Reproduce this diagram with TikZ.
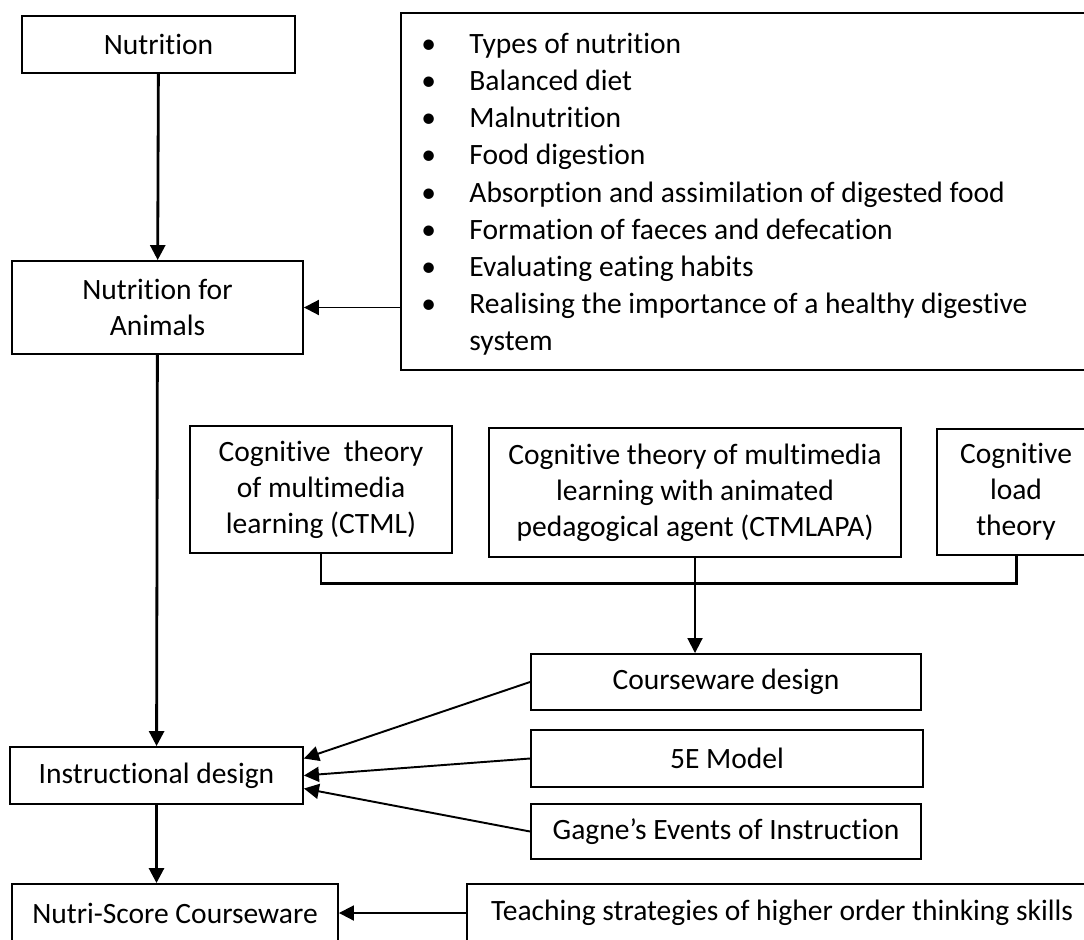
\documentclass[tikz,border=0pt]{standalone}
\usepackage{fontspec}
\setmainfont[Ligatures={NoCommon}]{Carlito}
\usetikzlibrary{positioning, arrows.meta, calc}

\begin{document}
\begin{tikzpicture}[
    x=0.02cm, y=-0.02cm,
    >={Triangle[length=0.3cm, width=0.3cm]},
    font=\fontsize{16.8}{20.5}\selectfont,
    conceptbox/.style={
        draw=black, line width=1.1pt,
        align=center, inner sep=2pt,
    },
    bulletlist/.style={
        align=left, inner sep=0pt,
        font=\fontsize{16.8}{21.1}\selectfont,
    },
    link/.style={
        ->, line width=1.1pt,
    },
    mainlink/.style={
        ->, line width=1.6pt,
    },
    bracket/.style={
        line width=1.7pt,
    },
]

% Page frame (boxes on the right and bottom run off the page)
\useasboundingbox[fill=white] (0,0) rectangle (1084,939);
\clip (0,0) rectangle (1084,939);

% Topic column (left)
\node[conceptbox, minimum width=5.46cm, minimum height=1.14cm] (nutr) at (158.5,44.5) {Nutrition};
\node[conceptbox, minimum width=5.82cm, minimum height=1.86cm] (animals) at (157.5,307.5)
    {Nutrition for\\Animals};

% Topic list (right)
\node[conceptbox, minimum width=13.98cm, minimum height=7.14cm] (topics) at (750.5,191.5) {};
\node[bulletlist, anchor=north west] (topiclist) at ($(topics.north west)+(21,21)$) {%
    \makebox[0.96cm][l]{\textbullet}Types of nutrition\\
    \makebox[0.96cm][l]{\textbullet}Balanced diet\\
    \makebox[0.96cm][l]{\textbullet}Malnutrition\\
    \makebox[0.96cm][l]{\textbullet}Food digestion\\
    \makebox[0.96cm][l]{\textbullet}Absorption and assimilation of digested food\\
    \makebox[0.96cm][l]{\textbullet}Formation of faeces and defecation\\
    \makebox[0.96cm][l]{\textbullet}Evaluating eating habits\\
    \makebox[0.96cm][l]{\textbullet}Realising the importance of a healthy digestive\\
    \hspace*{0.96cm}system
};

% Theories
\node[conceptbox, minimum width=5.24cm, minimum height=2.54cm] (ctml) at (321,489.5)
    {Cognitive\ \ theory\\of multimedia\\learning (CTML)};
\node[conceptbox, minimum width=8.24cm, minimum height=2.58cm] (ctmlapa) at (695,492.5)
    {Cognitive theory of multimedia\\learning with animated\\pedagogical agent (CTMLAPA)};
\node[conceptbox, minimum width=3.16cm, minimum height=2.52cm] (clt) at (1016,492)
    {Cognitive\\load\\theory};

% Design inputs
\node[conceptbox, minimum width=7.8cm, minimum height=1.12cm] (cwd) at (726,682) {Courseware design};
\node[conceptbox, minimum width=7.84cm, minimum height=1.14cm] (fivee) at (727,758.5) {5E Model};
\node[conceptbox, minimum width=7.8cm, minimum height=1.1cm] (gagne) at (726,831.5)
    {Gagne’s Events of Instruction};

% Outcome
\node[conceptbox, minimum width=5.86cm, minimum height=1.14cm] (instr) at (156.5,775.5) {Instructional design};
\node[conceptbox, minimum width=6.52cm, minimum height=1.16cm] (nsc) at (175,913) {Nutri-Score Courseware};
\node[conceptbox, minimum width=12.6cm, minimum height=1.16cm] (teach) at (782,913)
    {Teaching strategies of higher order thinking skills};

% Arrows
\draw[mainlink] (nutr) -- (animals);
\draw[link] (topics.west |- animals.east) -- (animals.east);
\draw[mainlink] (animals) -- (instr);
\draw[mainlink] (instr.south) -- (instr.south |- nsc.north);
\draw[link] (teach.west) -- (nsc.east);

\draw[bracket] (ctml.south) -- ++(0,30) -| (clt.south);
\draw[link] (ctmlapa.south) -- (ctmlapa.south |- cwd.north);

\draw[link] (cwd.west) -- ($(instr.east)+(0,-17)$);
\draw[link] (fivee.west) -- (instr.east);
\draw[link] (gagne.west) -- ($(instr.east)+(0,13)$);

\end{tikzpicture}
\end{document}
